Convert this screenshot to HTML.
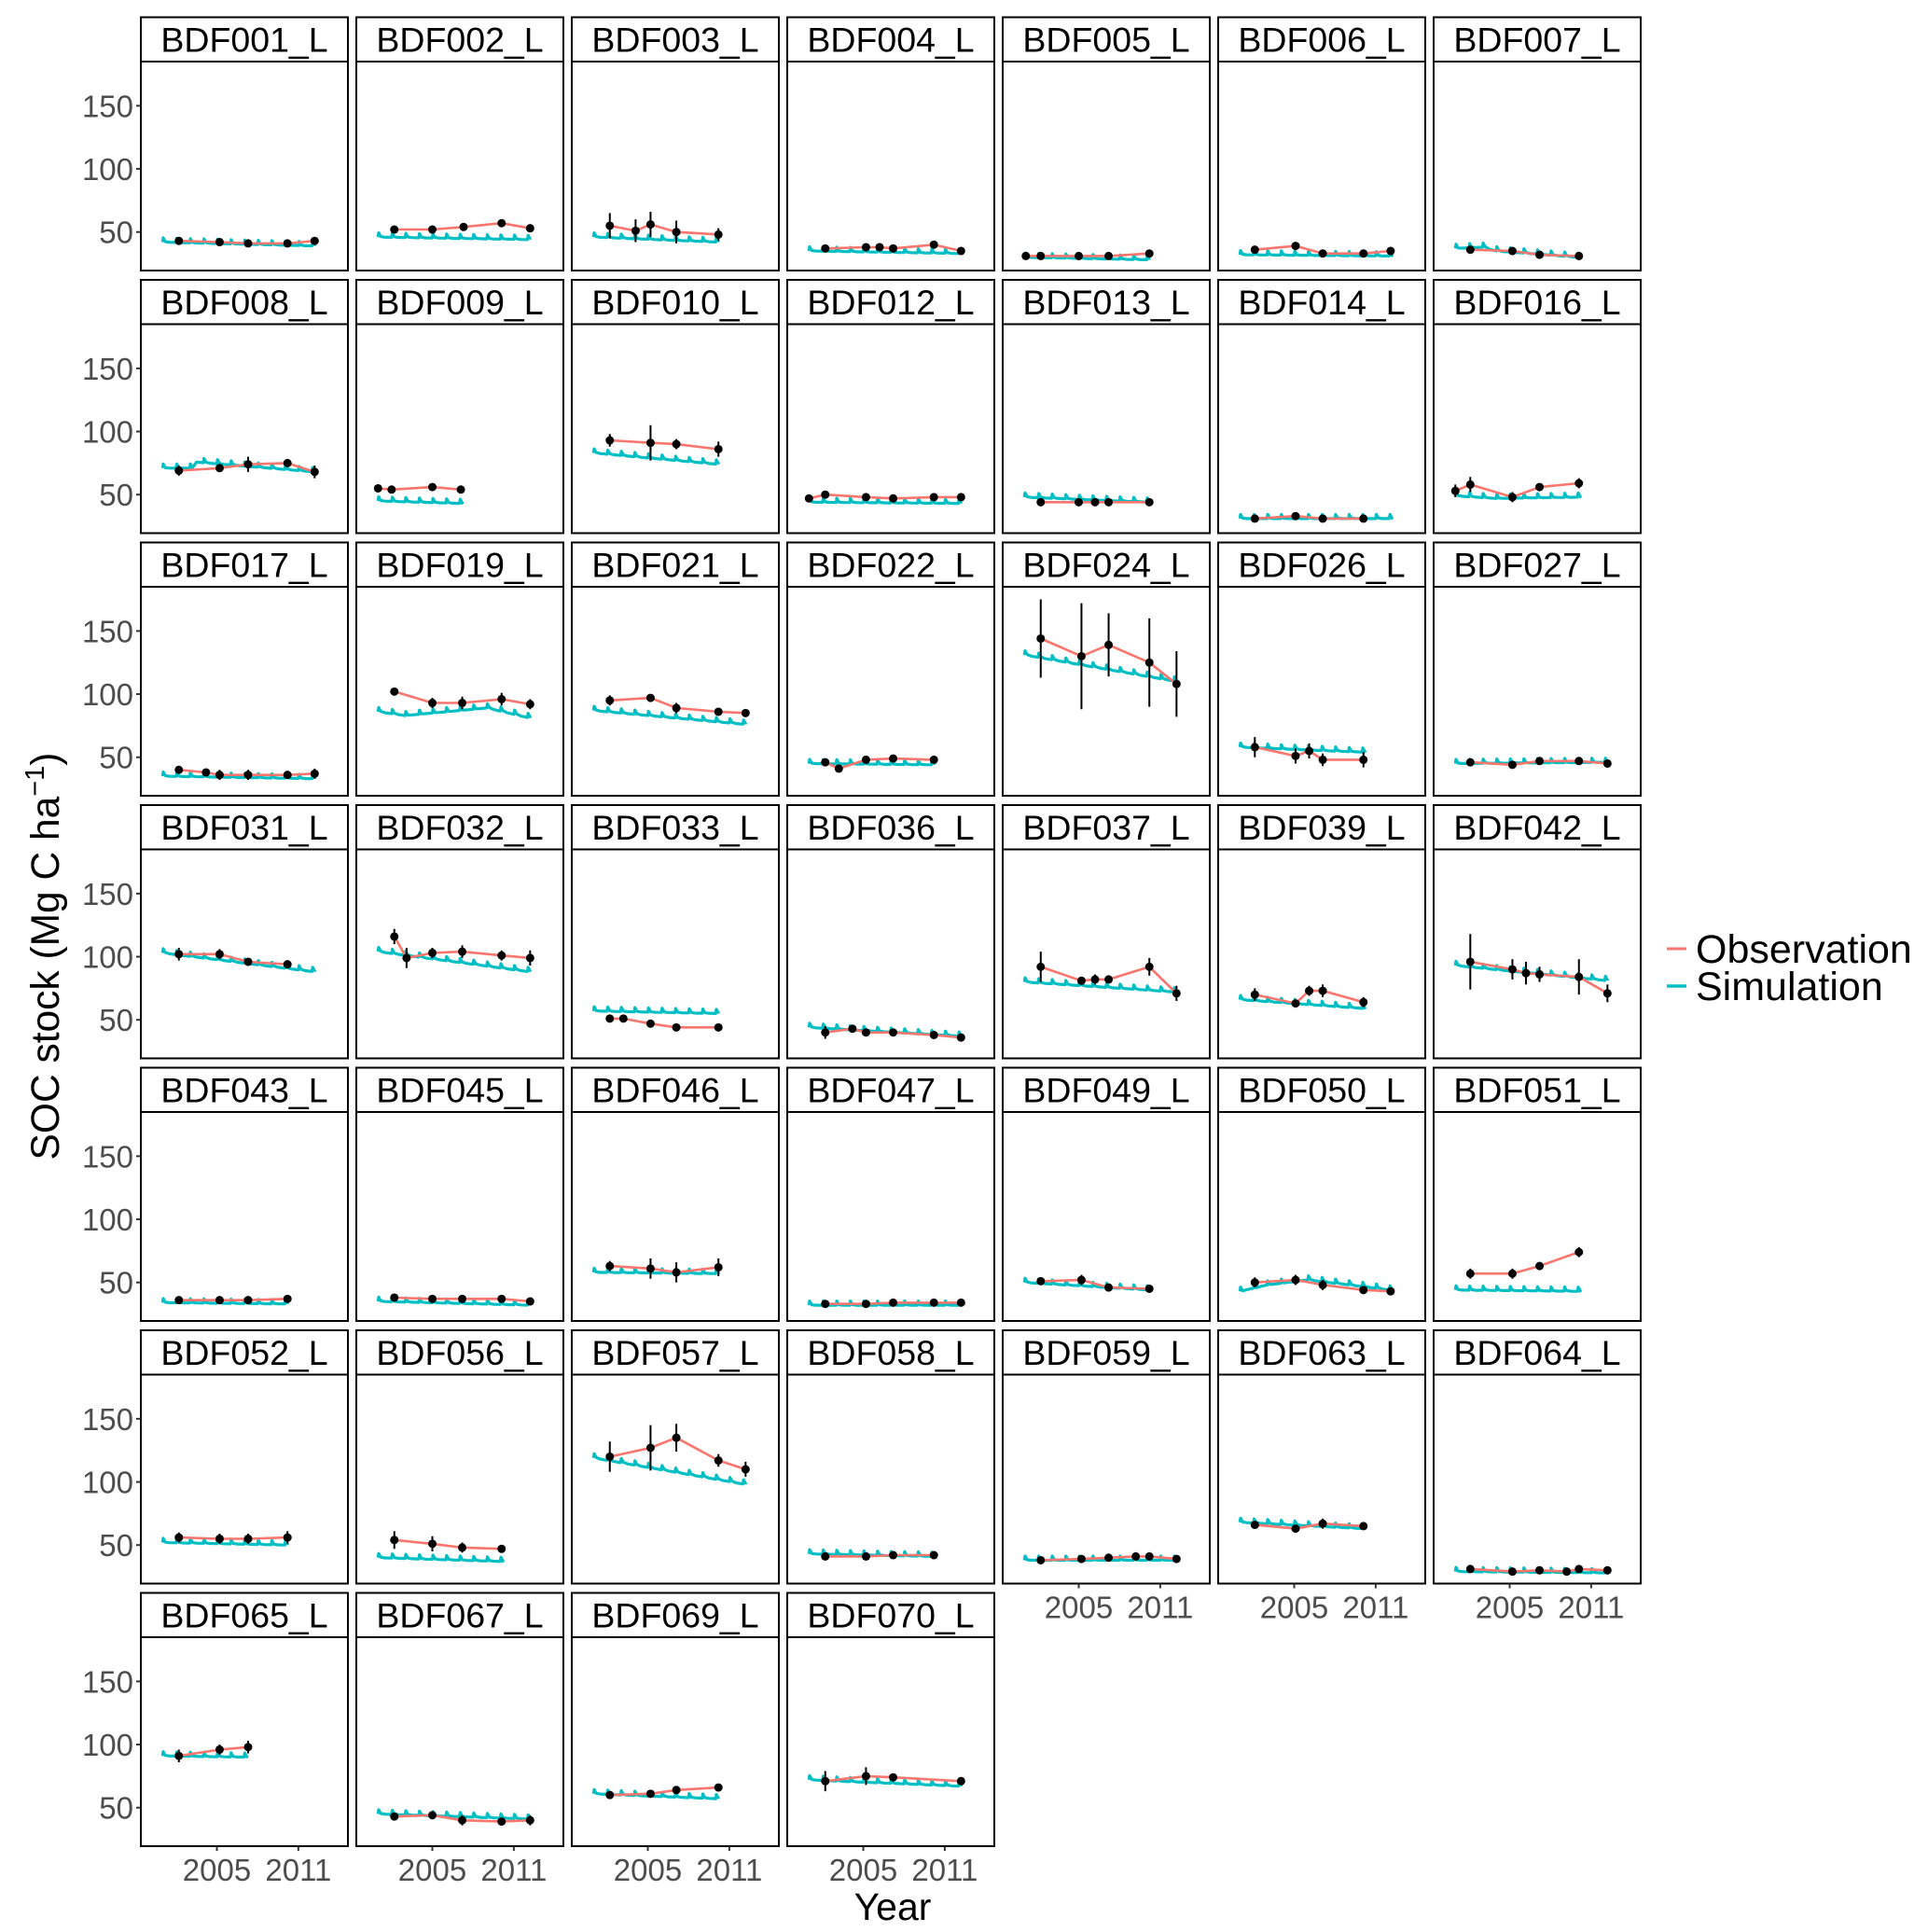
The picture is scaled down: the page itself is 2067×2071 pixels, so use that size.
<!DOCTYPE html>
<html><head><meta charset="utf-8"><style>
html,body{margin:0;padding:0;background:#fff;}
svg{display:block;font-family:"Liberation Sans",Arial,sans-serif;}
</style></head><body>
<svg id="chart" width="2067" height="2071" viewBox="0 0 2067 2071" xmlns="http://www.w3.org/2000/svg">
<g id="panels"></g>
<text x="957" y="2058" text-anchor="middle" font-size="41" fill="#000">Year</text>
<text transform="translate(63,1025) rotate(-90)" text-anchor="middle" font-size="42.5" fill="#000">SOC stock (Mg C ha<tspan dy="-16" font-size="29">−1</tspan><tspan dy="16">)</tspan></text>
<g>
<line x1="1787" x2="1808" y1="1017" y2="1017" stroke="#F8766D" stroke-width="3"/>
<text x="1818" y="1032" font-size="43" fill="#000">Observation</text>
<line x1="1787" x2="1808" y1="1057" y2="1057" stroke="#00BFC4" stroke-width="3.5"/>
<text x="1818" y="1072" font-size="43" fill="#000">Simulation</text>
</g>
</svg>
<script>
const siteNames=["BDF001_L","BDF002_L","BDF003_L","BDF004_L","BDF005_L","BDF006_L","BDF007_L",
"BDF008_L","BDF009_L","BDF010_L","BDF012_L","BDF013_L","BDF014_L","BDF016_L",
"BDF017_L","BDF019_L","BDF021_L","BDF022_L","BDF024_L","BDF026_L","BDF027_L",
"BDF031_L","BDF032_L","BDF033_L","BDF036_L","BDF037_L","BDF039_L","BDF042_L",
"BDF043_L","BDF045_L","BDF046_L","BDF047_L","BDF049_L","BDF050_L","BDF051_L",
"BDF052_L","BDF056_L","BDF057_L","BDF058_L","BDF059_L","BDF063_L","BDF064_L",
"BDF065_L","BDF067_L","BDF069_L","BDF070_L"];
const obsYears=[
[2002.2,2005.2,2007.3,2010.2,2012.2],[2002.2,2005,2007.3,2010.1,2012.2],[2002.2,2004.1,2005.2,2007.1,2010.2],[2002.2,2005.2,2006.2,2007.2,2010.2,2012.2],[2001.1,2002.2,2005,2007.2,2010.2],[2002.1,2005.1,2007.1,2010.1,2012.1],[2002.1,2005.2,2007.2,2010.1],
[2002.2,2005.2,2007.3,2010.2,2012.2],[2001,2002,2005,2007.1],[2002.2,2005.2,2007.1,2010.2],[2001,2002.2,2005.2,2007.2,2010.2,2012.2],[2002.2,2005,2006.2,2007.2,2010.2],[2002.1,2005.1,2007.1,2010.1],[2001,2002.1,2005.2,2007.2,2010.1],
[2002.2,2004.2,2005.2,2007.3,2010.2,2012.2],[2002.2,2005,2007.2,2010.1,2012.2],[2002.2,2005.2,2007.1,2010.2,2012.2],[2002.2,2003.2,2005.2,2007.2,2010.2],[2002.2,2005.2,2007.2,2010.2,2012.2],[2002.1,2005.1,2006.1,2007.1,2010.1],[2002.1,2005.2,2007.2,2010.1,2012.2],
[2002.2,2005.2,2007.3,2010.2],[2002.2,2003.1,2005,2007.2,2010.1,2012.2],[2002.2,2003.2,2005.2,2007.1,2010.2],[2002.2,2004.2,2005.2,2007.2,2010.2,2012.2],[2002.2,2005.2,2006.2,2007.2,2010.2,2012.2],[2002.1,2005.1,2006.1,2007.1,2010.1],[2002.1,2005.2,2006.2,2007.2,2010.1,2012.2],
[2002.2,2005.2,2007.3,2010.2],[2002.2,2005,2007.2,2010.1,2012.2],[2002.2,2005.2,2007.1,2010.2],[2002.2,2005.2,2007.2,2010.2,2012.2],[2002.2,2005.2,2007.2,2010.2],[2002.1,2005.1,2007.1,2010.1,2012.1],[2002.1,2005.2,2007.2,2010.1],
[2002.2,2005.2,2007.3,2010.2],[2002.2,2005,2007.2,2010.1],[2002.2,2005.2,2007.1,2010.2,2012.2],[2002.2,2005.2,2007.2,2010.2],[2002.2,2005.2,2007.2,2009.2,2010.2,2012.2],[2002.1,2005.1,2007.1,2010.1],[2002.1,2005.2,2007.2,2009.2,2010.1,2012.2],
[2002.2,2005.2,2007.3],[2002.2,2005,2007.2,2010.1,2012.2],[2002.2,2005.2,2007.1,2010.2],[2002.2,2005.2,2007.2,2012.2]];
const obsValues=[
[43,42,41,41,43],[52,52,54,57,53],[55,51,56,50,48],[37,38,38,37,40,35],[31,31,31,31,33],[36,39,33,33,35],[36,35,32,31],
[69,71,74,75,68],[55,54,56,54],[93,91,90,86],[47,50,48,47,48,48],[44,44,44,44,44],[31,33,31,31],[53,58,48,56,59],
[40,38,36,36,36,37],[102,93,93,96,92],[95,97,89,86,85],[46,41,48,49,48],[144,130,139,125,108],[58,51,55,48,48],[46,44,47,47,45],
[102,102,96,94],[116,99,103,104,101,99],[51,51,47,44,44],[40,43,40,40,38,36],[92,81,82,82,92,71],[70,63,73,73,64],[96,90,87,86,84,71],
[36,36,36,37],[38,37,37,37,35],[63,61,58,62],[33,33,34,34,34],[51,52,46,45],[50,52,48,44,43],[57,57,63,74],
[56,55,55,56],[54,51,48,47],[120,127,135,117,110],[41,41,42,42],[38,39,40,41,41,39],[66,63,67,65],[31,29,30,29,31,30],
[91,96,98],[43,44,40,39,40],[60,61,64,66],[71,75,74,71]];
const obsErrors=[
[2,1,1,1,1],[3,1,2,3,2],[10,9,10,9,5],[1,1,1,1,1,1],[1,1,1,1,1],[1,2,1,1,2],[1,1,1,1],
[4,1,6,3,5],[3,1,1,2],[5,14,4,6],[1,1,1,1,1,1],[1,1,1,1,1],[1,1,1,1],[5,6,4,2,4],
[1,1,4,4,3,4],[3,4,5,5,4],[4,1,4,3,3],[1,1,3,1,3],[31,42,25,35,26],[8,6,6,5,6],[2,1,2,2,2],
[5,4,2,2],[6,8,4,5,4,6],[3,3,1,1,2],[5,2,2,2,2,1],[12,3,4,3,7,6],[5,2,4,5,4],[22,8,9,6,14,7],
[1,1,1,1],[3,3,3,3,3],[4,8,8,7],[1,1,1,1,1],[2,4,2,2],[4,4,4,2,2],[4,4,2,4],
[4,4,4,5],[7,6,4,3],[12,18,11,5,6],[1,1,1,1],[1,1,1,1,1,1],[1,2,4,3],[1,1,1,1,1,1],
[5,4,5],[2,2,4,2,4],[1,1,1,2],[8,7,3,2]];
const simYears=[
[2001,2012.2],[2001,2012.2],[2001,2010.2],[2001,2012.2],[2001,2010.2],[2001,2012.1],[2001,2003,2004,2010.1],
[2001,2003,2003.2,2012.2],[2001,2007.1],[2001,2010.2],[2001,2012.2],[2001,2010.2],[2001,2012.1],[2001,2004,2010.1],
[2001,2012.2],[2001,2003,2009,2012.2],[2001,2012.2],[2001,2010.2],[2001,2012.2],[2001,2010.1],[2001,2012.2],
[2001,2012.2],[2001,2012.2],[2001,2010.2],[2001,2012.2],[2001,2012.2],[2001,2010.1],[2001,2012.2],
[2001,2010.2],[2001,2012.2],[2001,2010.2],[2001,2012.2],[2001,2010.2],[2001,2003,2006,2012.1],[2001,2010.1],
[2001,2010.2],[2001,2010.1],[2001,2012.2],[2001,2010.2],[2001,2012.2],[2001,2010.1],[2001,2012.2],
[2001,2007.3],[2001,2012.2],[2001,2010.2],[2001,2012.2]];
const simValues=[
[42,39],[46,44],[46,42],[35,33],[30,28],[32,31],[37,38,35,30],
[71,71,76,68],[45,43],[83,74],[44,43],[48,44],[31,31],[49,47,48],
[35,33],[86,83,89,81],[87,76],[45,44],[131,110],[58,54],[45,46],
[103,88],[104,88],[57,55],[44,37],[80,72],[66,59],[93,81],
[34,33],[35,32],[58,57],[32,32],[50,44],[43,48,52,44],[44,43],
[52,50],[40,37],[119,98],[43,41],[38,38],[68,63],[29,28],
[91,90],[45,41],[61,57],[72,67]];
const yTicks=[50,100,150];
const xTicks=[2005,2011];

const NS="http://www.w3.org/2000/svg";
const root=document.getElementById('panels');
const colLeft=151, colPitch=231, pw=222, rowTop=18.5, rowPitch=281.5, stripH=47.5, plotH=224;
const yMin=19.5, yMax=185, xMin=1999.4, xMax=2014.65;
function mk(tag,attrs,parent){const e=document.createElementNS(NS,tag);for(const k in attrs)e.setAttribute(k,attrs[k]);parent.appendChild(e);return e;}
function interp(ys,vs,t){for(let i=0;i<ys.length-1;i++){if(t<=ys[i+1]){const f=(t-ys[i])/(ys[i+1]-ys[i]);return vs[i]+f*(vs[i+1]-vs[i]);}}return vs[vs.length-1];}
siteNames.forEach((name,i)=>{
  const r=Math.floor(i/7), c=i%7;
  const x0=colLeft+c*colPitch, top=rowTop+r*rowPitch, py0=top+stripH, py1=py0+plotH;
  const sx=v=>x0+(v-xMin)/(xMax-xMin)*pw;
  const sy=v=>py1-(v-yMin)/(yMax-yMin)*plotH;
  const g=mk('g',{},root);
  
  
  const strip=mk('rect',{x:x0,y:top,width:pw,height:stripH,fill:'#fff',stroke:'#000','stroke-width':2},g);
  
  
  const st=mk('text',{x:x0+pw/2,y:top+37,'text-anchor':'middle','font-size':37.5,fill:'#000'},g);
  st.textContent=name;
  
  
  const fr=mk('rect',{x:x0,y:py0,width:pw,height:plotH,fill:'#fff',stroke:'#000','stroke-width':2},g);
  
  
  const ys=simYears[i], vs=simValues[i];
  let d='';const a=ys[0], b=ys[ys.length-1];
  const steps=[];for(let t=a;t<b;t+=0.5)steps.push(t);steps.push(b);
  steps.forEach((t,k)=>{const v=interp(ys,vs,t);
    d+=(k?'L':'M')+sx(t).toFixed(1)+','+sy(v).toFixed(1);
    if(k<steps.length-1&&Math.abs(t-Math.round(t))<0.01){
      d+='L'+sx(t+0.05).toFixed(1)+','+(sy(v)-4.5).toFixed(1)+'L'+sx(t+0.2).toFixed(1)+','+(sy(v)-0.5).toFixed(1);
    }});
  const sim=mk('path',{d:d,fill:'none',stroke:'#00BFC4','stroke-width':3.2,'stroke-linejoin':'round'},g);
  
  
  const oy=obsYears[i], ov=obsValues[i], oe=obsErrors[i];
  const pts=oy.map((t,k)=>sx(t).toFixed(1)+','+sy(ov[k]).toFixed(1)).join(' ');
  const ol=mk('polyline',{points:pts,fill:'none',stroke:'#F8766D','stroke-width':2.6},g);
  
  
  oy.forEach((t,k)=>{
    const eb=mk('line',{x1:sx(t),x2:sx(t),y1:sy(ov[k]+oe[k]),y2:sy(ov[k]-oe[k]),stroke:'#000','stroke-width':2},g);
    
    
    const p=mk('circle',{cx:sx(t),cy:sy(ov[k]),r:4.5,fill:'#000'},g);
    
    
  });
  if(c===0){
    yTicks.forEach(v=>{
      const tk=mk('line',{x1:x0-5,x2:x0,y1:sy(v),y2:sy(v),stroke:'#333','stroke-width':2},g);
      
      
      const tl=mk('text',{x:x0-8,y:sy(v)+12,'text-anchor':'end','font-size':33,fill:'#4d4d4d'},g);
      tl.textContent=v;
      
      
    });
  }
  const below=i+7>=siteNames.length;
  if(below){
    xTicks.forEach(v=>{
      const tk=mk('line',{x1:sx(v),x2:sx(v),y1:py1,y2:py1+5,stroke:'#333','stroke-width':2},g);
      
      
      const tl=mk('text',{x:sx(v),y:py1+37,'text-anchor':'middle','font-size':33,fill:'#4d4d4d'},g);
      tl.textContent=v;
      
      
    });
  }
});
</script>
</body></html>
